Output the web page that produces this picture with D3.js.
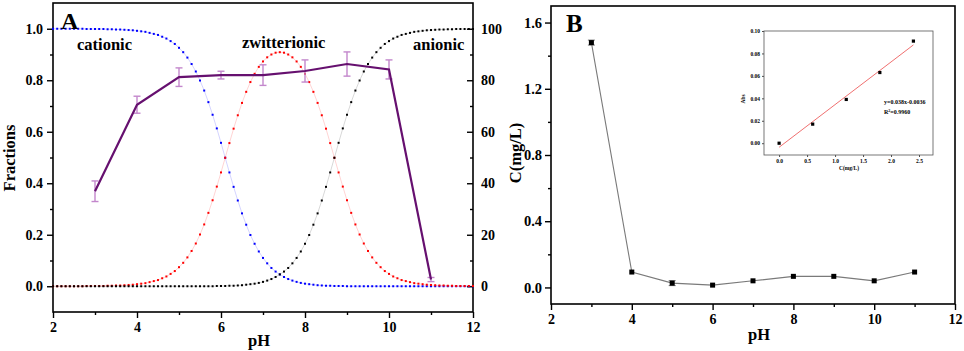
<!DOCTYPE html>
<html>
<head>
<meta charset="utf-8">
<script src="https://cdn.jsdelivr.net/npm/d3@7"></script>
<style>
  body { margin: 0; background: #fff; }
  svg, svg text { font-family: "Liberation Serif", "DejaVu Serif", serif !important; font-weight: bold; }
</style>
</head>
<body>
<div id="chart"></div>
<script>
// ---- data: panel A speciation curves (pH 2.0 .. 12.0, step 0.1) ----
var phGrid = [2.0,2.1,2.2,2.3,2.4,2.5,2.6,2.7,2.8,2.9,3.0,3.1,3.2,3.3,3.4,3.5,3.6,3.7,3.8,3.9,
  4.0,4.1,4.2,4.3,4.4,4.5,4.6,4.7,4.8,4.9,5.0,5.1,5.2,5.3,5.4,5.5,5.6,5.7,5.8,5.9,
  6.0,6.1,6.2,6.3,6.4,6.5,6.6,6.7,6.8,6.9,7.0,7.1,7.2,7.3,7.4,7.5,7.6,7.7,7.8,7.9,
  8.0,8.1,8.2,8.3,8.4,8.5,8.6,8.7,8.8,8.9,9.0,9.1,9.2,9.3,9.4,9.5,9.6,9.7,9.8,9.9,
  10.0,10.1,10.2,10.3,10.4,10.5,10.6,10.7,10.8,10.9,11.0,11.1,11.2,11.3,11.4,11.5,11.6,11.7,11.8,11.9,12.0]

var cationic = [1,1,1,1,1,1,1,1,0.999,0.999,0.999,0.999,0.999,0.998,0.998,0.997,0.997,0.996,0.995,0.994,
  0.992,0.990,0.988,0.984,0.980,0.976,0.969,0.962,0.952,0.941,0.926,0.909,0.888,0.863,0.834,0.799,0.760,0.715,0.666,0.613,
  0.557,0.499,0.442,0.386,0.333,0.283,0.239,0.199,0.165,0.135,0.110,0.089,0.071,0.057,0.046,0.036,0.028,0.022,0.017,0.013,
  0.010,0.008,0.006,0.004,0.003,0.002,0.002,0.001,0.001,0.001,0,0,0,0,0,0,0,0,0,0,
  0,0,0,0,0,0,0,0,0,0,0,0,0,0,0,0,0,0,0,0,0]

var zwitterionic = [0,0,0,0,0,0,0,0,0.001,0.001,0.001,0.001,0.001,0.002,0.002,0.003,0.003,0.004,0.005,0.006,
  0.008,0.010,0.012,0.016,0.020,0.024,0.031,0.038,0.048,0.059,0.074,0.091,0.112,0.137,0.166,0.201,0.240,0.285,0.334,0.387,
  0.442,0.499,0.556,0.612,0.664,0.712,0.755,0.793,0.825,0.852,0.873,0.889,0.900,0.907,0.909,0.907,0.900,0.889,0.873,0.852,
  0.825,0.793,0.755,0.712,0.664,0.612,0.556,0.499,0.442,0.387,0.334,0.285,0.240,0.201,0.166,0.137,0.112,0.091,0.074,0.059,
  0.048,0.038,0.031,0.024,0.020,0.016,0.012,0.010,0.008,0.006,0.005,0.004,0.003,0.003,0.002,0.002,0.001,0.001,0.001,0.001,0.001]

var anionic = [0,0,0,0,0,0,0,0,0,0,0,0,0,0,0,0,0,0,0,0,
  0,0,0,0,0,0,0,0,0,0,0,0,0,0,0,0,0,0,0,0.001,
  0.001,0.001,0.002,0.002,0.003,0.004,0.006,0.008,0.010,0.013,0.017,0.022,0.028,0.036,0.046,0.057,0.071,0.089,0.110,0.135,
  0.165,0.199,0.239,0.283,0.333,0.386,0.442,0.499,0.557,0.613,0.666,0.715,0.760,0.799,0.834,0.863,0.888,0.909,0.926,0.941,
  0.952,0.962,0.969,0.976,0.980,0.984,0.988,0.990,0.992,0.994,0.995,0.996,0.997,0.997,0.998,0.998,0.999,0.999,0.999,0.999,0.999]

// ---- data: panel A removal (%) ----
var phPts = [3, 4, 5, 6, 7, 8, 9, 10, 11]
var removal = [36.9, 70.5, 81.2, 82.0, 82.0, 83.6, 86.3, 84.2, 2.6]
var removalErr = [4.0, 3.3, 3.6, 1.5, 4.0, 4.3, 4.7, 3.7, 0.8]

// ---- data: panel B residual concentration ----
var conc = [1.479, 0.093, 0.026, 0.014, 0.040, 0.067, 0.067, 0.040, 0.093]
var concErr = [0.015, 0, 0.015, 0, 0, 0, 0, 0, 0]

// ---- data: inset calibration ----
var calX = [0, 0.6, 1.2, 1.8, 2.4]
var calAbs = [0.000, 0.017, 0.039, 0.063, 0.091]
var fitSlope = 0.038, fitIntercept = -0.0036

var W = 964, H = 351
var FONT = '"Liberation Serif", "DejaVu Serif", serif'

var svg = d3.select("#chart").append("svg")
    .attr("width", W)
    .attr("height", H)
    .attr("font-family", FONT)

// =================== PANEL A ===================
var xA = d3.scaleLinear().domain([2, 12]).range([53, 473])
var yA = d3.scaleLinear().domain([-0.1, 1.1]).range([312, 3])
var yR = d3.scaleLinear().domain([-10, 110]).range([312, 3])

var gA = svg.append("g")

function styleAxis(g, size) {
  g.attr("font-family", FONT)
  g.selectAll(".domain").remove()
  g.selectAll("line").attr("stroke", "#000").attr("stroke-width", 1.4)
  g.selectAll("text").attr("font-size", size).attr("fill", "#000")
    .attr("font-family", FONT).attr("font-weight", "bold")
}

// left axis
gA.append("g").attr("transform", "translate(53,0)")
  .call(d3.axisLeft(yA).tickValues([0, 0.2, 0.4, 0.6, 0.8, 1.0]).tickFormat(d3.format(".1f")).tickSize(6).tickPadding(4))
  .call(styleAxis, 14)
gA.append("g").attr("transform", "translate(53,0)")
  .call(d3.axisLeft(yA).tickValues([0.1, 0.3, 0.5, 0.7, 0.9]).tickFormat("").tickSize(3))
  .call(styleAxis, 14)
// right axis (ticks pointing in)
gA.append("g").attr("transform", "translate(473,0)")
  .call(d3.axisRight(yR).tickValues([0, 20, 40, 60, 80, 100]).tickFormat(d3.format("d")).tickSize(-6).tickPadding(8))
  .call(styleAxis, 14)
gA.append("g").attr("transform", "translate(473,0)")
  .call(d3.axisRight(yR).tickValues([10, 30, 50, 70, 90]).tickFormat("").tickSize(-3))
  .call(styleAxis, 14)
// bottom axis
gA.append("g").attr("transform", "translate(0,312)")
  .call(d3.axisBottom(xA).tickValues([2, 4, 6, 8, 10, 12]).tickFormat(d3.format("d")).tickSize(6).tickPadding(4))
  .call(styleAxis, 14)
gA.append("g").attr("transform", "translate(0,312)")
  .call(d3.axisBottom(xA).tickValues([3, 5, 7, 9, 11]).tickFormat("").tickSize(3))
  .call(styleAxis, 14)

gA.append("rect")
  .attr("x", 53).attr("y", 3).attr("width", 420).attr("height", 309)
  .attr("fill", "none").attr("stroke", "#000").attr("stroke-width", 1.6)

// speciation curves: faint connecting line + dots
var curves = [
  {vals: cationic, col: "#0000ff", faint: "rgba(0,0,255,0.22)"},
  {vals: zwitterionic, col: "#ff0000", faint: "rgba(255,0,0,0.22)"},
  {vals: anionic, col: "#000000", faint: "rgba(0,0,0,0.2)"}
]
var lineA = d3.line().x(function(d){return xA(d[0])}).y(function(d){return yA(d[1])})

curves.forEach(function(c) {
  var pts = phGrid.map(function(p, i){return [p, c.vals[i]]})
  gA.append("path")
    .attr("d", lineA(pts))
    .attr("fill", "none")
    .attr("stroke", c.faint)
    .attr("stroke-width", 0.8)
  gA.selectAll(null)
    .data(pts)
    .enter()
    .append("rect")
    .attr("x", function(d){return xA(d[0]) - 1})
    .attr("y", function(d){return yA(d[1]) - 1})
    .attr("width", 2)
    .attr("height", 2)
    .attr("fill", c.col)
})

// removal line with error bars (right axis)
var remPts = phPts.map(function(p, i){return [p, removal[i], removalErr[i]]})
var errCol = "#c387cc"
var eb = gA.selectAll(".ebA").data(remPts).enter().append("g").attr("class", "ebA")
eb.append("line")
  .attr("x1", function(d){return xA(d[0])}).attr("x2", function(d){return xA(d[0])})
  .attr("y1", function(d){return yR(d[1] - d[2])}).attr("y2", function(d){return yR(d[1] + d[2])})
  .attr("stroke", errCol).attr("stroke-width", 1.4)
eb.append("line")
  .attr("x1", function(d){return xA(d[0]) - 3.5}).attr("x2", function(d){return xA(d[0]) + 3.5})
  .attr("y1", function(d){return yR(d[1] + d[2])}).attr("y2", function(d){return yR(d[1] + d[2])})
  .attr("stroke", errCol).attr("stroke-width", 1.4)
eb.append("line")
  .attr("x1", function(d){return xA(d[0]) - 3.5}).attr("x2", function(d){return xA(d[0]) + 3.5})
  .attr("y1", function(d){return yR(d[1] - d[2])}).attr("y2", function(d){return yR(d[1] - d[2])})
  .attr("stroke", errCol).attr("stroke-width", 1.4)

gA.append("path")
  .attr("d", d3.line().x(function(d){return xA(d[0])}).y(function(d){return yR(d[1])})(remPts))
  .attr("fill", "none")
  .attr("stroke", "#66106f")
  .attr("stroke-width", 2.2)

// labels
gA.append("text").attr("x", 61).attr("y", 29).attr("font-size", 24).text("A")
gA.append("text").attr("x", 77).attr("y", 50).attr("font-size", 16.5).text("cationic")
gA.append("text").attr("x", 242).attr("y", 48).attr("font-size", 16.5).text("zwitterionic")
gA.append("text").attr("x", 413).attr("y", 50).attr("font-size", 16.5).text("anionic")
gA.append("text").attr("x", 259).attr("y", 346).attr("text-anchor", "middle").attr("font-size", 16.5).text("pH")
gA.append("text")
  .attr("transform", "translate(15,158) rotate(-90)")
  .attr("text-anchor", "middle").attr("font-size", 16.5).text("Fractions")

// =================== PANEL B ===================
var xB = d3.scaleLinear().domain([2, 12]).range([551, 955])
var yB = d3.scaleLinear().domain([-0.1, 1.7]).range([304, 6])
var gB = svg.append("g")

gB.append("g").attr("transform", "translate(551,0)")
  .call(d3.axisLeft(yB).tickValues([0, 0.4, 0.8, 1.2, 1.6]).tickFormat(d3.format(".1f")).tickSize(6).tickPadding(3))
  .call(styleAxis, 14.5)
gB.append("g").attr("transform", "translate(551,0)")
  .call(d3.axisLeft(yB).tickValues([0.2, 0.6, 1.0, 1.4]).tickFormat("").tickSize(3))
  .call(styleAxis, 14.5)
gB.append("g").attr("transform", "translate(0,304)")
  .call(d3.axisBottom(xB).tickValues([2, 4, 6, 8, 10, 12]).tickFormat(d3.format("d")).tickSize(6).tickPadding(4))
  .call(styleAxis, 14)
gB.append("g").attr("transform", "translate(0,304)")
  .call(d3.axisBottom(xB).tickValues([3, 5, 7, 9, 11]).tickFormat("").tickSize(3))
  .call(styleAxis, 14)

gB.append("rect")
  .attr("x", 551).attr("y", 6).attr("width", 404).attr("height", 298)
  .attr("fill", "none").attr("stroke", "#000").attr("stroke-width", 1.6)

var concPts = phPts.map(function(p, i){return [p, conc[i], concErr[i]]})
gB.append("path")
  .attr("d", d3.line().x(function(d){return xB(d[0])}).y(function(d){return yB(d[1])})(concPts))
  .attr("fill", "none")
  .attr("stroke", "#7a7a7a")
  .attr("stroke-width", 1.1)

var ebB = gB.selectAll(".ebB").data(concPts.filter(function(d){return d[2] > 0})).enter().append("g")
ebB.append("line")
  .attr("x1", function(d){return xB(d[0])}).attr("x2", function(d){return xB(d[0])})
  .attr("y1", function(d){return yB(d[1] - d[2])}).attr("y2", function(d){return yB(d[1] + d[2])})
  .attr("stroke", "#777").attr("stroke-width", 1)
ebB.append("line")
  .attr("x1", function(d){return xB(d[0]) - 3.5}).attr("x2", function(d){return xB(d[0]) + 3.5})
  .attr("y1", function(d){return yB(d[1] + d[2])}).attr("y2", function(d){return yB(d[1] + d[2])})
  .attr("stroke", "#777").attr("stroke-width", 1)
ebB.append("line")
  .attr("x1", function(d){return xB(d[0]) - 3.5}).attr("x2", function(d){return xB(d[0]) + 3.5})
  .attr("y1", function(d){return yB(d[1] - d[2])}).attr("y2", function(d){return yB(d[1] - d[2])})
  .attr("stroke", "#777").attr("stroke-width", 1)

gB.selectAll(".mkB").data(concPts).enter().append("rect")
  .attr("x", function(d){return xB(d[0]) - 2.5})
  .attr("y", function(d){return yB(d[1]) - 2.5})
  .attr("width", 5).attr("height", 5)
  .attr("fill", "#000")

gB.append("text").attr("x", 566).attr("y", 32).attr("font-size", 25).text("B")
gB.append("text").attr("x", 759).attr("y", 340).attr("text-anchor", "middle").attr("font-size", 16.5).text("pH")
gB.append("text")
  .attr("transform", "translate(521,153) rotate(-90)")
  .attr("text-anchor", "middle").attr("font-size", 16.5).text("C(mg/L)")

// ---- inset ----
var xI = d3.scaleLinear().domain([-0.27, 2.75]).range([764, 933])
var yI = d3.scaleLinear().domain([-0.0105, 0.1]).range([155, 31])
var gI = svg.append("g")

gI.append("g").attr("transform", "translate(764,0)")
  .call(d3.axisLeft(yI).tickValues([0, 0.02, 0.04, 0.06, 0.08, 0.10]).tickFormat(d3.format(".2f")).tickSize(2).tickPadding(2))
  .call(styleAxis, 5.5)
gI.append("g").attr("transform", "translate(0,155)")
  .call(d3.axisBottom(xI).tickValues([0, 0.5, 1.0, 1.5, 2.0, 2.5]).tickFormat(d3.format(".1f")).tickSize(2).tickPadding(2))
  .call(styleAxis, 5.5)
gI.selectAll("line").attr("stroke-width", 0.7)

gI.append("rect")
  .attr("x", 764).attr("y", 31).attr("width", 169).attr("height", 124)
  .attr("fill", "none").attr("stroke", "#555").attr("stroke-width", 0.8)

var fitEnds = [calX[0], calX[calX.length - 1]]
gI.append("line")
  .attr("x1", xI(fitEnds[0])).attr("y1", yI(fitSlope * fitEnds[0] + fitIntercept))
  .attr("x2", xI(fitEnds[1])).attr("y2", yI(fitSlope * fitEnds[1] + fitIntercept))
  .attr("stroke", "#f07070").attr("stroke-width", 1)

gI.selectAll(".mkI").data(calX).enter().append("rect")
  .attr("x", function(d){return xI(d) - 1.6})
  .attr("y", function(d, i){return yI(calAbs[i]) - 1.6})
  .attr("width", 3.2).attr("height", 3.2)
  .attr("fill", "#000")

gI.append("text").attr("x", 884).attr("y", 104).attr("font-size", 6).attr("font-weight", "normal").text("y=0.038x-0.0036")
var r2 = gI.append("text").attr("x", 884).attr("y", 114).attr("font-size", 6).attr("font-weight", "normal")
r2.append("tspan").text("R")
r2.append("tspan").attr("dy", -2).attr("font-size", 4).text("2")
r2.append("tspan").attr("dy", 2).text("=0.9960")
gI.append("text").attr("x", 849).attr("y", 170).attr("text-anchor", "middle").attr("font-size", 5.5).text("C(mg/L)")
gI.append("text")
  .attr("transform", "translate(745,99) rotate(-90)")
  .attr("text-anchor", "middle").attr("font-size", 5.5).text("Abs")
</script>
</body>
</html>
